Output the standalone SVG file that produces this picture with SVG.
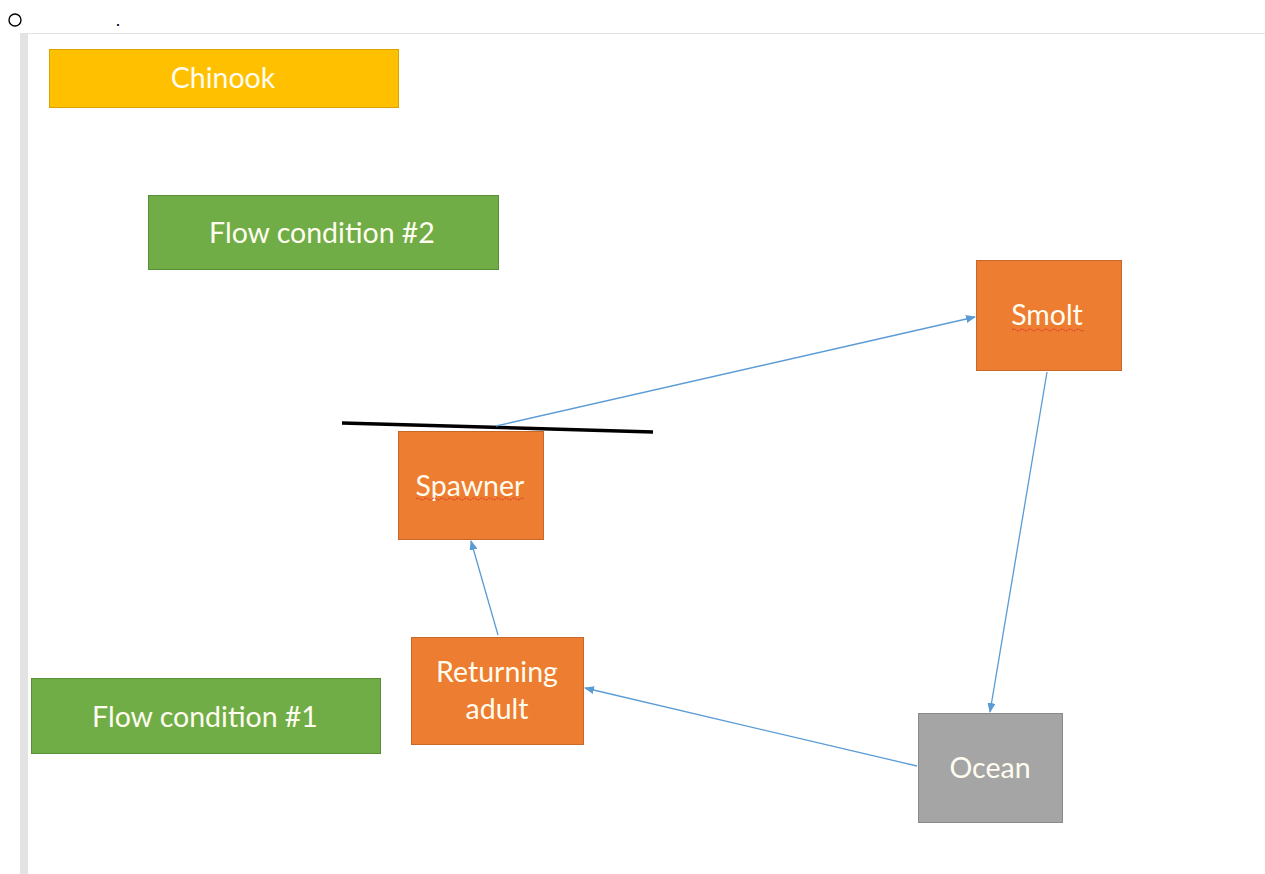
<svg xmlns="http://www.w3.org/2000/svg" width="1265" height="874" viewBox="0 0 1265 874">
<style>
.lbl{font-family:Lato,"Open Sans","Liberation Sans",sans-serif;font-size:28.5px;fill:#FFFCF0;text-anchor:middle;dominant-baseline:central}
.orange{fill:#ED7D31;stroke:#C8672A;stroke-width:1}
.green{fill:#70AD47;stroke:#5A8F38;stroke-width:1}
.conn{stroke:#5B9BD5;stroke-width:1.3;fill:none;marker-end:url(#ah)}
.squig{stroke:#E03030;stroke-width:1;fill:none;stroke-dasharray:2 1}
</style>
<defs>
<marker id="ah" markerWidth="10" markerHeight="8" refX="9" refY="4" orient="auto" markerUnits="userSpaceOnUse">
<path d="M0,0 L10,4 L0,8 Z" fill="#5B9BD5"/>
</marker>
</defs>
<rect width="1265" height="874" fill="#FFFFFF"/>
<g id="frame">
<rect x="20" y="33" width="8" height="841" fill="#E3E3E3"/>
<line x1="28" y1="33.5" x2="1265" y2="33.5" stroke="#E3E3E3" stroke-width="1"/>
<circle cx="15" cy="20" r="6" fill="none" stroke="#000" stroke-width="1.4"/>
<text x="118" y="26" font-family="'Liberation Sans',sans-serif" font-size="18" text-anchor="middle" fill="#000">.</text>
</g>
<g id="chinook">
<rect x="49.5" y="49.5" width="349" height="58" fill="#FFC000" stroke="#D9A300"/>
<text class="lbl" x="223" y="77">Chinook</text>
</g>
<g id="flow2">
<rect class="green" x="148.5" y="195.5" width="350" height="74"/>
<text class="lbl" x="322" y="232">Flow condition #2</text>
</g>
<g id="flow1">
<rect class="green" x="31.5" y="678.5" width="349" height="75"/>
<text class="lbl" x="205" y="716">Flow condition #1</text>
</g>
<g id="smolt">
<rect class="orange" x="976.5" y="260.5" width="145" height="110"/>
<text class="lbl" x="1047" y="314">Smolt</text>
<path class="squig" d="M1012,330 q2,-2 4,0 t4,0 t4,0 t4,0 t4,0 t4,0 t4,0 t4,0 t4,0 t4,0 t4,0 t4,0 t4,0 t4,0 t4,0 t4,0 t4,0 t4,0"/>
</g>
<g id="spawner">
<rect class="orange" x="398.5" y="431.5" width="145" height="108"/>
<text class="lbl" x="470" y="485">Spawner</text>
<path class="squig" d="M416,499 q2,-2 4,0 t4,0 t4,0 t4,0 t4,0 t4,0 t4,0 t4,0 t4,0 t4,0 t4,0 t4,0 t4,0 t4,0 t4,0 t4,0 t4,0 t4,0 t4,0 t4,0 t4,0 t4,0 t4,0 t4,0 t4,0 t4,0 t4,0"/>
</g>
<g id="returning">
<rect class="orange" x="411.5" y="637.5" width="172" height="107"/>
<text class="lbl" x="497" y="671">Returning</text>
<text class="lbl" x="497" y="708">adult</text>
</g>
<g id="ocean">
<rect x="918.5" y="713.5" width="144" height="109" fill="#A5A5A5" stroke="#8A8A8A"/>
<text class="lbl" x="990" y="767">Ocean</text>
</g>
<g id="barrier">
<line x1="342" y1="423" x2="653" y2="432" stroke="#000" stroke-width="3.5"/>
</g>
<g id="connectors">
<line class="conn" x1="496" y1="426" x2="975" y2="317"/>
<line class="conn" x1="1047" y1="372" x2="990" y2="712"/>
<line class="conn" x1="917" y1="766" x2="585" y2="688"/>
<line class="conn" x1="498" y1="635" x2="471" y2="541"/>
</g>
</svg>
